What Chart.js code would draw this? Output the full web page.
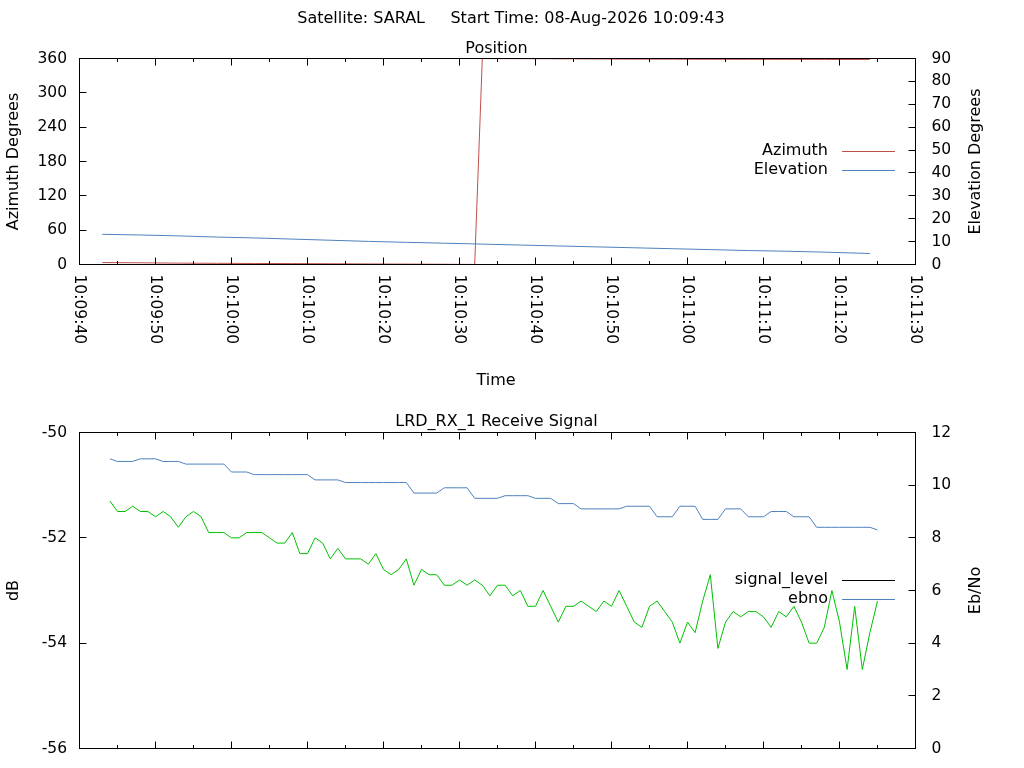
<!DOCTYPE html>
<html>
<head>
<meta charset="utf-8">
<script src="https://cdn.jsdelivr.net/npm/chart.js@4.4.1/dist/chart.umd.min.js"></script>
<style>
  body { margin: 0; background: #fff; width: 1024px; height: 768px; overflow: hidden; position: relative; }
  canvas { position: absolute; left: 0; }
</style>
</head>
<body>
<canvas id="posChart" width="1024" height="400" style="top:0"></canvas>
<canvas id="sigChart" width="1024" height="400" style="top:400px"></canvas>
<script>
// seconds after 10:09:40, one label per 10 s
var xTickLabels = ['10:09:40', '10:09:50', '10:10:00', '10:10:10', '10:10:20', '10:10:30',
                   '10:10:40', '10:10:50', '10:11:00', '10:11:10', '10:11:20', '10:11:30'];

// position pass (top panel)
var posTimes  = [3, 8, 13, 18, 23, 28, 33, 38, 43, 48, 52, 53, 58, 63, 68, 73, 78, 83, 88, 93, 98, 104];
var azimuth   = [3.4, 3.0, 2.4, 2.1, 1.8, 1.6, 1.3, 1.0, 0.7, 0.4, 0.1,
                 359.9, 359.7, 359.5, 359.2, 358.9, 358.8, 358.6, 358.5, 358.4, 358.3, 358.2];
var elevation = [13.2, 12.9, 12.5, 12.0, 11.6, 11.1, 10.6, 10.1, 9.7, 9.3, 9.0,
                 8.9, 8.5, 8.1, 7.7, 7.3, 6.9, 6.5, 6.1, 5.8, 5.4, 4.8];

// receive signal (bottom panel), one sample per second
var sigTimes = [
  4, 5, 6, 7, 8, 9, 10, 11, 12, 13,
  14, 15, 16, 17, 18, 19, 20, 21, 22, 23,
  24, 25, 26, 27, 28, 29, 30, 31, 32, 33,
  34, 35, 36, 37, 38, 39, 40, 41, 42, 43,
  44, 45, 46, 47, 48, 49, 50, 51, 52, 53,
  54, 55, 56, 57, 58, 59, 60, 61, 62, 63,
  64, 65, 66, 67, 68, 69, 70, 71, 72, 73,
  74, 75, 76, 77, 78, 79, 80, 81, 82, 83,
  84, 85, 86, 87, 88, 89, 90, 91, 92, 93,
  94, 95, 96, 97, 98, 99, 100, 101, 102, 103,
  104, 105];
var signalDb = [
  -51.3, -51.5, -51.5, -51.4, -51.5, -51.5, -51.6, -51.5, -51.6, -51.8,
  -51.6, -51.5, -51.6, -51.9, -51.9, -51.9, -52.0, -52.0, -51.9, -51.9,
  -51.9, -52.0, -52.1, -52.1, -51.9, -52.3, -52.3, -52.0, -52.1, -52.4,
  -52.2, -52.4, -52.4, -52.4, -52.5, -52.3, -52.6, -52.7, -52.6, -52.4,
  -52.9, -52.6, -52.7, -52.7, -52.9, -52.9, -52.8, -52.9, -52.8, -52.9,
  -53.1, -52.9, -52.9, -53.1, -53.0, -53.3, -53.3, -53.0, -53.3, -53.6,
  -53.3, -53.3, -53.2, -53.3, -53.4, -53.2, -53.3, -53.0, -53.3, -53.6,
  -53.7, -53.3, -53.2, -53.4, -53.6, -54.0, -53.6, -53.8, -53.2, -52.7,
  -54.1, -53.6, -53.4, -53.5, -53.4, -53.4, -53.5, -53.7, -53.4, -53.5,
  -53.3, -53.6, -54.0, -54.0, -53.7, -53.0, -53.6, -54.5, -53.3, -54.5,
  -53.8, -53.2];
var ebno = [
  11.0, 10.9, 10.9, 10.9, 11.0, 11.0, 11.0, 10.9, 10.9, 10.9,
  10.8, 10.8, 10.8, 10.8, 10.8, 10.8, 10.5, 10.5, 10.5, 10.4,
  10.4, 10.4, 10.4, 10.4, 10.4, 10.4, 10.4, 10.2, 10.2, 10.2,
  10.2, 10.1, 10.1, 10.1, 10.1, 10.1, 10.1, 10.1, 10.1, 10.1,
  9.7, 9.7, 9.7, 9.7, 9.9, 9.9, 9.9, 9.9, 9.5, 9.5,
  9.5, 9.5, 9.6, 9.6, 9.6, 9.6, 9.5, 9.5, 9.5, 9.3,
  9.3, 9.3, 9.1, 9.1, 9.1, 9.1, 9.1, 9.1, 9.2, 9.2,
  9.2, 9.2, 8.8, 8.8, 8.8, 9.2, 9.2, 9.2, 8.7, 8.7,
  8.7, 9.1, 9.1, 9.1, 8.8, 8.8, 8.8, 9.0, 9.0, 9.0,
  8.8, 8.8, 8.8, 8.4, 8.4, 8.4, 8.4, 8.4, 8.4, 8.4,
  8.4, 8.3];
var signalLevel = [];

function pts(xs, ys) {
  return ys.map(function(v, i) { return { x: xs[i], y: v }; });
}

Chart.defaults.font.family = '"DejaVu Sans", sans-serif';
Chart.defaults.font.size = 15.5;
Chart.defaults.color = '#000';

var FONT = '"DejaVu Sans", sans-serif';

function snap(v) { return Math.round(v - 0.5) + 0.5; }

// gnuplot-like frame: inward ticks, box, titles, rotated time labels, key
var gnuFrame = {
  id: 'gnuFrame',
  afterDatasetsDraw: function(chart, args, o) {
    var ctx = chart.ctx, a = chart.chartArea;
    var x = chart.scales.x, yl = chart.scales.y, yr = chart.scales.y2;
    ctx.save();
    ctx.strokeStyle = '#000';
    ctx.lineWidth = 1;
    ctx.beginPath();
    x.ticks.forEach(function(t) {
      var px = snap(x.getPixelForValue(t.value));
      var len = t.value % 10 === 0 ? 7 : 3.5;
      ctx.moveTo(px, a.bottom); ctx.lineTo(px, a.bottom - len);
      ctx.moveTo(px, a.top); ctx.lineTo(px, a.top + len);
    });
    yl.ticks.forEach(function(t) {
      var py = snap(yl.getPixelForValue(t.value));
      ctx.moveTo(a.left, py); ctx.lineTo(a.left + 7, py);
    });
    yr.ticks.forEach(function(t) {
      var py = snap(yr.getPixelForValue(t.value));
      ctx.moveTo(a.right, py); ctx.lineTo(a.right - 7, py);
    });
    ctx.stroke();
    ctx.strokeRect(a.left, a.top, a.right - a.left, a.bottom - a.top);

    ctx.fillStyle = '#000';
    ctx.font = '16px ' + FONT;
    ctx.textAlign = 'center';
    ctx.textBaseline = 'alphabetic';
    if (o.mainTitle) ctx.fillText(o.mainTitle, 511, 23);
    ctx.fillText(o.title, (a.left + a.right) / 2 - 1, o.titleY);
    if (o.xTitle) ctx.fillText(o.xTitle, 496, o.xTitleY);

    var cy = (a.top + a.bottom) / 2;
    [[18, o.yLeftTitle], [980, o.yRightTitle]].forEach(function(p) {
      ctx.save();
      ctx.translate(p[0], cy);
      ctx.rotate(-Math.PI / 2);
      ctx.fillText(p[1], 0, 0);
      ctx.restore();
    });

    if (o.xLabels) {
      ctx.font = '15.5px ' + FONT;
      x.ticks.forEach(function(t) {
        if (t.value % 10 !== 0) return;
        var px = snap(x.getPixelForValue(t.value));
        ctx.save();
        ctx.translate(px - 4.5, a.bottom + 10);
        ctx.rotate(Math.PI / 2);
        ctx.textAlign = 'left';
        ctx.fillText(xTickLabels[t.value / 10], 0, 0);
        ctx.restore();
      });
    }

    // key
    ctx.font = '16px ' + FONT;
    ctx.textAlign = 'right';
    ctx.textBaseline = 'middle';
    var row = 0;
    chart.data.datasets.forEach(function(d) {
      if (!d.label) return;
      var ky = o.keyY + row * 19;
      ctx.fillStyle = '#000';
      ctx.fillText(d.label, 828, ky);
      ctx.strokeStyle = d.borderColor;
      ctx.beginPath();
      ctx.moveTo(842, ky + 0.5);
      ctx.lineTo(895, ky + 0.5);
      ctx.stroke();
      row++;
    });
    ctx.restore();
  }
};

function baseOptions(cfg) {
  return {
    responsive: false,
    animation: false,
    layout: { padding: { top: cfg.padTop, left: 0, right: 0, bottom: 0 } },
    plugins: {
      legend: { display: false },
      title: { display: false },
      tooltip: { enabled: false },
      gnuFrame: cfg.frame
    },
    elements: { point: { radius: 0 }, line: { borderWidth: 1, tension: 0 } },
    scales: {
      x: {
        type: 'linear', min: 0, max: 110,
        ticks: { stepSize: 5, display: false },
        grid: { display: false, drawTicks: false },
        border: { display: false },
        afterFit: function(s) { s.height = cfg.xHeight; }
      },
      y: {
        position: 'left', min: cfg.yMin, max: cfg.yMax,
        ticks: { stepSize: cfg.yStep, padding: 12.5, color: '#000' },
        grid: { display: false, drawTicks: false },
        border: { display: false },
        afterFit: function(s) { s.width = 79.5; }
      },
      y2: {
        position: 'right', min: cfg.y2Min, max: cfg.y2Max,
        ticks: { stepSize: cfg.y2Step, padding: 16, color: '#000' },
        grid: { display: false, drawTicks: false },
        border: { display: false },
        afterFit: function(s) { s.width = 108.5; }
      }
    }
  };
}

new Chart(document.getElementById('posChart'), {
  type: 'line',
  data: {
    datasets: [
      { label: 'Azimuth', data: pts(posTimes, azimuth), borderColor: '#c0504d', yAxisID: 'y' },
      { label: 'Elevation', data: pts(posTimes, elevation), borderColor: '#4f81bd', yAxisID: 'y2' }
    ]
  },
  options: baseOptions({
    padTop: 58.5, xHeight: 135.5,
    yMin: 0, yMax: 360, yStep: 60,
    y2Min: 0, y2Max: 90, y2Step: 10,
    frame: {
      mainTitle: 'Satellite: SARAL     Start Time: 08-Aug-2026 10:09:43',
      title: 'Position', titleY: 52.5,
      xTitle: 'Time', xTitleY: 384.5, xLabels: true,
      yLeftTitle: 'Azimuth Degrees', yRightTitle: 'Elevation Degrees',
      keyY: 151
    }
  }),
  plugins: [gnuFrame]
});

new Chart(document.getElementById('sigChart'), {
  type: 'line',
  data: {
    datasets: [
      { label: 'signal_level', data: pts(sigTimes, signalLevel), borderColor: '#000000', yAxisID: 'y' },
      { label: 'ebno', data: pts(sigTimes, ebno), borderColor: '#4f81bd', yAxisID: 'y2' },
      { label: '', data: pts(sigTimes, signalDb), borderColor: '#00c000', yAxisID: 'y' }
    ]
  },
  options: baseOptions({
    padTop: 32.5, xHeight: 51.5,
    yMin: -56, yMax: -50, yStep: 2,
    y2Min: 0, y2Max: 12, y2Step: 2,
    frame: {
      title: 'LRD_RX_1 Receive Signal', titleY: 25.5,
      xLabels: false,
      yLeftTitle: 'dB', yRightTitle: 'Eb/No',
      keyY: 180
    }
  }),
  plugins: [gnuFrame]
});
</script>
</body>
</html>
